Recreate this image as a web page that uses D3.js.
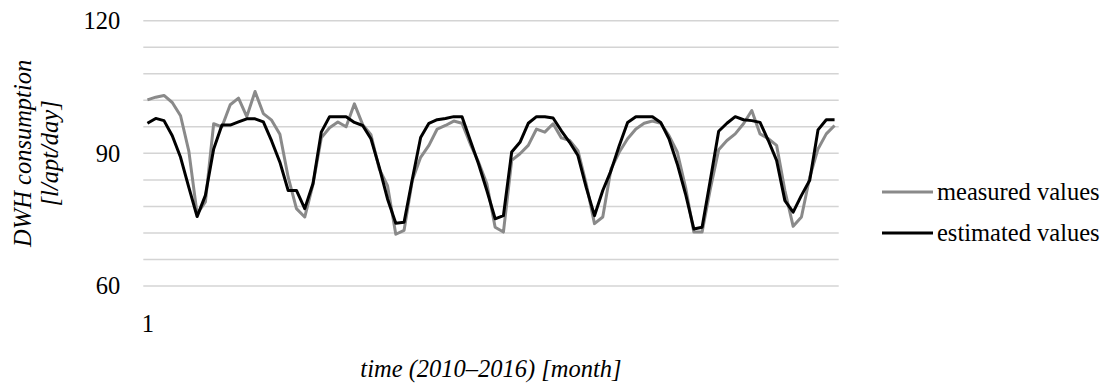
<!DOCTYPE html>
<html>
<head>
<meta charset="utf-8">
<script src="https://cdn.jsdelivr.net/npm/d3@7"></script>
<style>
  html, body { margin: 0; padding: 0; background: #ffffff; }
  svg { display: block; }
</style>
</head>
<body>
<svg id="chart" width="1107" height="385"></svg>
<script>
// ---- data ----
const months = d3.range(1, 85); // 84 months, 2010–2016
const measured = [
  102.1, 102.7, 103.1, 101.5, 98.5, 90.5, 76.3, 79.0, 96.7, 96.0, 101.0, 102.5,
  98.3, 104.0, 99.0, 97.5, 94.3, 84.6, 77.5, 75.6, 83.0, 93.5, 95.8, 97.1,
  96.0, 101.2, 96.5, 94.2, 86.5, 82.7, 71.7, 72.6, 83.9, 89.1, 91.8, 95.5,
  96.3, 97.3, 96.8, 92.1, 88.0, 83.1, 73.3, 72.2, 88.4, 89.9, 91.8, 95.5,
  94.8, 96.7, 93.5, 92.9, 90.6, 83.1, 74.1, 75.6, 86.5, 90.3, 93.3, 95.5,
  96.8, 97.3, 96.8, 94.0, 90.3, 82.3, 72.2, 72.2, 82.0, 90.8, 92.9, 94.4,
  96.7, 99.7, 94.4, 93.3, 91.8, 81.6, 73.5, 75.6, 84.6, 91.0, 94.4, 96.3
];
const estimated = [
  96.8, 97.9, 97.4, 94.0, 89.1, 82.3, 75.7, 80.5, 91.0, 96.4, 96.4, 97.1,
  97.8, 97.8, 97.1, 92.8, 88.0, 81.6, 81.6, 77.5, 83.2, 94.8, 98.3, 98.3,
  98.3, 97.0, 96.3, 93.3, 86.9, 79.7, 74.2, 74.4, 84.2, 93.6, 96.8, 97.6,
  97.9, 98.3, 98.3, 92.9, 87.6, 81.6, 75.2, 75.9, 90.3, 92.5, 96.8, 98.3,
  98.3, 98.0, 95.1, 92.5, 89.5, 82.3, 75.9, 81.6, 86.1, 91.8, 97.0, 98.3,
  98.3, 98.3, 97.0, 93.3, 87.6, 80.8, 72.9, 73.3, 84.0, 95.0, 96.8, 98.3,
  97.6, 97.4, 97.0, 92.9, 88.4, 79.3, 76.7, 80.5, 83.9, 95.3, 97.6, 97.6
];
const yGridValues = [60, 66, 72, 78, 84, 90, 96, 102, 108, 114, 120];
const yTickLabels = [60, 90, 120];
const xTickLabels = [1];
const seriesNames = ["measured values", "estimated values"];
const seriesColors = ["#8a8a8a", "#000000"];

// ---- layout ----
const svg = d3.select("#chart");
const pLeft = 143.3, pRight = 838.7, pTop = 20.7, pBottom = 286;
const FS = 24.5;
const FONT = '"Liberation Serif", "Times New Roman", Times, serif';

const x = d3.scalePoint().domain(months).range([pLeft, pRight]).padding(0.5);
const y = d3.scaleLinear().domain([60, 120]).range([pBottom, pTop]);

// gridlines
svg.append("g").selectAll("line").data(yGridValues).join("line")
  .attr("x1", pLeft).attr("x2", pRight)
  .attr("y1", d => y(d)).attr("y2", d => y(d))
  .attr("stroke", "#d4d4d4").attr("stroke-width", 1.5);

// y axis labels
const yAxis = d3.axisLeft(y).tickValues(yTickLabels).tickSize(0).tickPadding(0).tickFormat(d3.format("d"));
const gy = svg.append("g").attr("transform", `translate(${pLeft - 23},0)`).call(yAxis)
  .attr("font-family", FONT).attr("font-size", FS);
gy.select(".domain").remove();
gy.selectAll("text").attr("fill", "#000");

// x axis label
const xAxis = d3.axisBottom(x).tickValues(xTickLabels).tickSize(0).tickPadding(0);
const gx = svg.append("g").attr("transform", `translate(0,${pBottom + 29})`).call(xAxis)
  .attr("font-family", FONT).attr("font-size", FS);
gx.select(".domain").remove();
gx.selectAll("text").attr("fill", "#000");

// lines
const line = d3.line().x((d, i) => x(months[i])).y(d => y(d));
[measured, estimated].forEach((s, k) => {
  svg.append("path").datum(s)
    .attr("fill", "none")
    .attr("stroke", seriesColors[k])
    .attr("stroke-width", 3)
    .attr("stroke-linejoin", "round")
    .attr("d", line);
});

// axis titles
svg.append("text")
  .attr("x", (pLeft + pRight) / 2).attr("y", 377)
  .attr("text-anchor", "middle")
  .attr("font-family", FONT).attr("font-size", FS).attr("font-style", "italic")
  .text("time (2010–2016) [month]");

const yMid = (pTop + pBottom) / 2;
svg.append("text")
  .attr("transform", `translate(31,${yMid}) rotate(-90)`)
  .attr("text-anchor", "middle")
  .attr("font-family", FONT).attr("font-size", FS).attr("font-style", "italic")
  .text("DWH consumption");
svg.append("text")
  .attr("transform", `translate(58,${yMid}) rotate(-90)`)
  .attr("text-anchor", "middle")
  .attr("font-family", FONT).attr("font-size", FS).attr("font-style", "italic")
  .text("[l/apt/day]");

// legend
const legY = [192, 233];
seriesNames.forEach((name, k) => {
  svg.append("line")
    .attr("x1", 882).attr("x2", 933)
    .attr("y1", legY[k]).attr("y2", legY[k])
    .attr("stroke", seriesColors[k]).attr("stroke-width", 3);
  svg.append("text")
    .attr("x", 937).attr("y", legY[k]).attr("dy", "0.33em")
    .attr("font-family", FONT).attr("font-size", FS)
    .text(name);
});
</script>
</body>
</html>
